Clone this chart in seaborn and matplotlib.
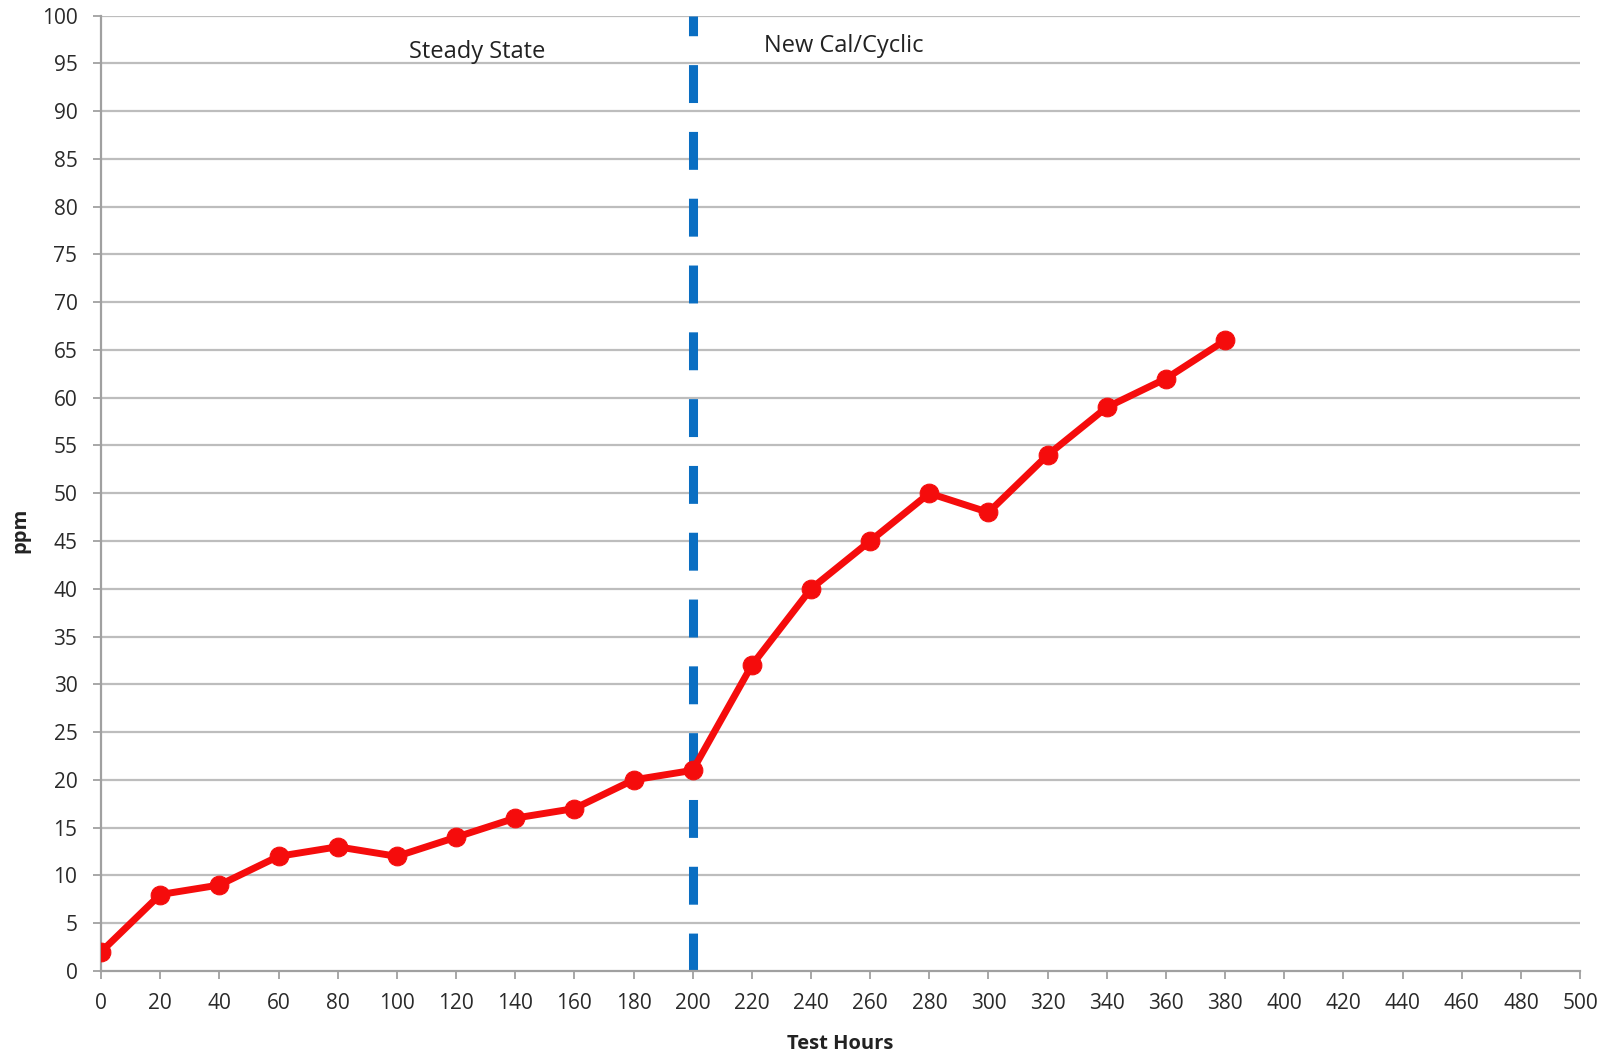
import matplotlib
matplotlib.use("Agg")
import matplotlib.pyplot as plt
import seaborn as sns
import pandas as pd

hours = [0, 20, 40, 60, 80, 100, 120, 140, 160, 180, 200, 220, 240, 260, 280, 300, 320, 340, 360, 380]
ppm = [2, 8, 9, 12, 13, 12, 14, 16, 17, 20, 21, 32, 40, 45, 50, 48, 54, 59, 62, 66]
x_ticks = list(range(0, 501, 20))
y_ticks = list(range(0, 101, 5))
divider_x = 200
annotations = [("Steady State", 127, 96.2), ("New Cal/Cyclic", 251, 96.8)]

sns.set_theme(style="white")
plt.rcParams['font.family'] = ['Open Sans', 'DejaVu Sans']

df = pd.DataFrame({"Test Hours": hours, "ppm": ppm})

fig = plt.figure(figsize=(16.14, 10.56), dpi=100)
ax = fig.add_axes([0.0626, 0.0805, 0.9164, 0.9048])

for y in y_ticks[1:]:
    ax.axhline(y, color="#bdbdbd", lw=1.6, zorder=0)

ax.plot([divider_x, divider_x], [0, 100], color="#0a6ec2", lw=6.5,
        dashes=(4.2, 3.2), zorder=2, solid_capstyle="butt", dash_capstyle="butt")

sns.lineplot(data=df, x="Test Hours", y="ppm", ax=ax, color="#f50c0c", lw=5,
             marker="o", markersize=13.5, markeredgecolor="#f50c0c", zorder=3)

for txt, x, y in annotations:
    ax.text(x, y, txt, ha="center", va="center", fontsize=17, color="#222222")

ax.set_xlim(0, 500)
ax.set_ylim(0, 100)
ax.set_xticks(x_ticks)
ax.set_yticks(y_ticks)
ax.tick_params(axis="both", labelsize=15, colors="#2a2a2a", length=6, width=1.3,
               color="#a0a0a0", direction="out", bottom=True, left=True)
ax.tick_params(axis="x", pad=9.5)
ax.tick_params(axis="y", pad=11)
ax.set_xlabel("Test Hours", fontsize=14.5, fontweight="bold", color="#222222", labelpad=15)
ax.set_ylabel("ppm", fontsize=14.5, fontweight="bold", color="#222222")
ax.yaxis.set_label_coords(-0.0548, 0.4615)
ax.yaxis.label.set_verticalalignment("center")
for s in ["top", "right"]:
    ax.spines[s].set_visible(False)
for s in ["left", "bottom"]:
    ax.spines[s].set_color("#a0a0a0")
    ax.spines[s].set_linewidth(1.6)

fig.savefig("out.png", dpi=100)
